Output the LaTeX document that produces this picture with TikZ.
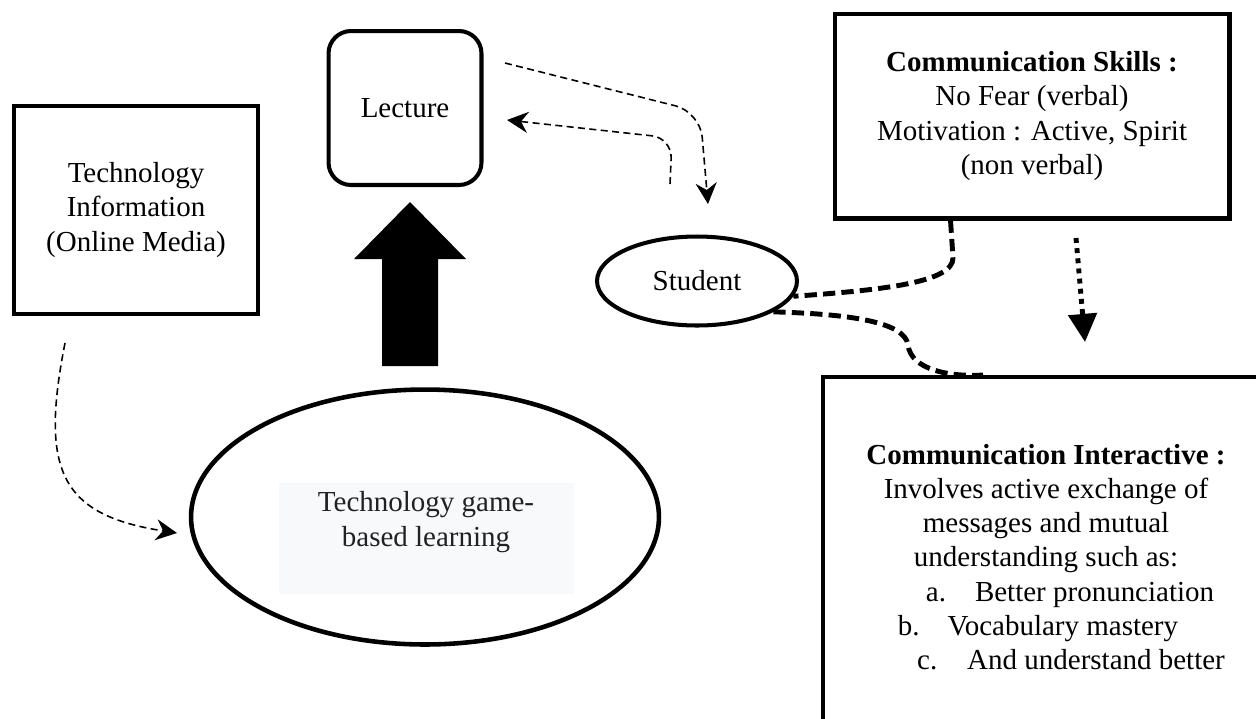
\documentclass[tikz,border=0pt]{standalone}
\usepackage{fontspec}
\setmainfont{Liberation Serif}
\usetikzlibrary{arrows.meta,calc,shapes.geometric}
\definecolor{gamebg}{HTML}{F8F9FA}
\definecolor{gametxt}{HTML}{202124}

\begin{document}
\begin{tikzpicture}[x=0.02cm,y=-0.02cm,>=Stealth,font=\fontsize{16.5}{19.5}\selectfont,
  box/.style={draw,line width=2.3pt,align=center,inner sep=0pt},
  thindash/.style={line width=0.9pt,dash pattern=on 4pt off 2.5pt,-{Stealth[length=12pt,width=12pt,inset=4pt]}},
  thickdash/.style={line width=2.8pt,dash pattern=on 7pt off 3.5pt}]
\clip (0,0) rectangle (1256,718);
% boxes
\node[box,minimum width=4.88cm,minimum height=4.16cm] (techinfo) at (136,210){Technology\\Information\\(Online Media)};
\node[box,rounded corners=0.45cm,minimum width=3.06cm,minimum height=3.08cm] (lecture) at (405,108){Lecture};
\node[box,ellipse,minimum width=4cm,minimum height=1.78cm] (student) at (697,281){Student};
\node[box,minimum width=7.9cm,minimum height=4.1cm] (skills) at (1032,116){\textbf{Communication Skills :}\\No Fear (verbal)\\Motivation : Active, Spirit\\(non verbal)};
\node[box,minimum width=8.92cm,minimum height=7.2cm] (interact) at (1046,557){\textbf{Communication Interactive :}\\Involves active exchange of\\messages and mutual\\understanding such as:\\\hspace*{0.96cm}a.\hspace{0.58cm}Better pronunciation\\b.\hspace{0.56cm}Vocabulary mastery\hspace*{0.32cm}\mbox{}\\\hspace*{1cm}c.\hspace{0.6cm}And understand better};
% game-based learning
\node[box,ellipse,line width=2.6pt,minimum width=9.36cm,minimum height=5.1cm] (game) at (425,517){};
\fill[gamebg] (279,483) rectangle (574,594);
\node[text=gametxt,align=center] (gamelbl) at (426,522){Technology game-\\based learning};
% block arrow up to lecture
\fill (410,202)--(466,259)--(438,259)--(438,366)--(382,366)--(382,259)--(354,259)--cycle;
% thin dashed arrows
\coordinate (l2sA) at (505,63); \coordinate (l2sB) at (708,204);
\coordinate (s2lA) at (670,184); \coordinate (s2lB) at (507,120);
\coordinate (t2gA) at (65,343); \coordinate (t2gB) at (177,533);
\draw[thindash,rounded corners=0.5cm] (l2sA)--(700,112)--(l2sB);
\draw[thindash,rounded corners=0.4cm] (s2lA)--(672,138)--(s2lB);
\draw[thindash] (t2gA) .. controls (40,470) and (60,515) .. (t2gB);
% thick dashed links of student
\draw[thickdash] ($(skills.south west)+(118,0)$)--(953,258) .. controls (953,282) and (885,290) .. (student.-9);
\draw[thickdash] (student.-22) .. controls (850,314) and (905,322) .. (908,345) .. controls (911,370) and (950,377) .. ($(interact.north west)+(162,0)$);
% dotted arrow
\coordinate (dotA) at (1076,238); \coordinate (dotB) at (1085,342);
\draw[line width=2.8pt,dash pattern=on 2.8pt off 3pt,-{Triangle[length=16pt,width=16pt]}] (dotA)--(dotB);
\end{tikzpicture}
\end{document}
